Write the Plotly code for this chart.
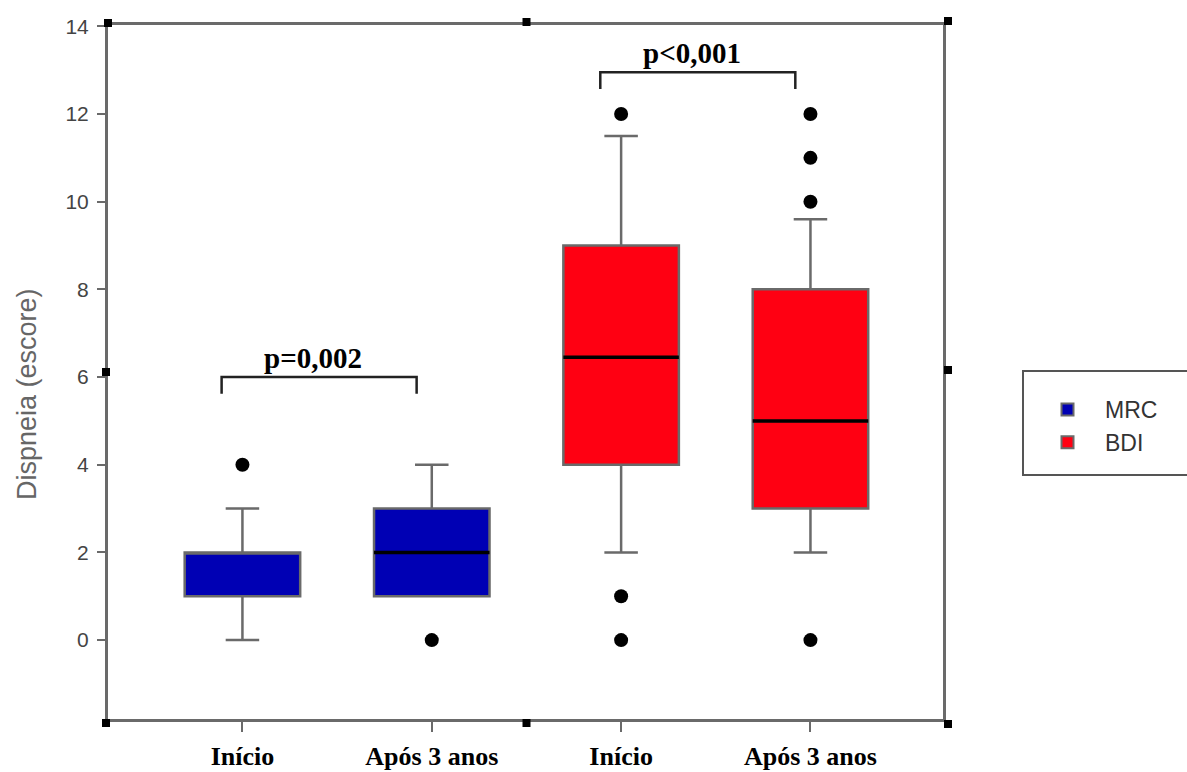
import plotly.graph_objects as go

# ---- data ----
categories = ["Início", "Após 3 anos", "Início", "Após 3 anos"]
groups = ["MRC", "MRC", "BDI", "BDI"]
q1 = [1, 1, 4, 3]
median = [2, 2, 6.45, 5]
q3 = [2, 3, 9, 8]
lowerfence = [0, 1, 2, 2]
upperfence = [3, 4, 11.5, 9.6]
outliers = [[4], [0], [12, 1, 0], [12, 11, 10, 0]]
p_labels = ["p=0,002", "p<0,001"]
p_pairs = [(0, 1), (2, 3)]
p_heights = [6.0, 12.95]
y_ticks = [0, 2, 4, 6, 8, 10, 12, 14]

colors = {"MRC": "#0000b4", "BDI": "#ff0012"}
positions = [1, 2, 3, 4]
box_w = 0.61

fig = go.Figure()
shown = set()
for i, pos in enumerate(positions):
    g = groups[i]
    fig.add_trace(go.Box(
        x=[pos], q1=[q1[i]], median=[median[i]], q3=[q3[i]],
        lowerfence=[lowerfence[i]], upperfence=[upperfence[i]],
        name=g, legendgroup=g, showlegend=g not in shown,
        fillcolor=colors[g], line=dict(color="#6a6a6a", width=2.5),
        width=box_w, whiskerwidth=0.29, boxpoints=False,
        hoverinfo="skip",
    ))
    shown.add(g)
    if q1[i] < median[i] < q3[i]:
        fig.add_trace(go.Scatter(
            x=[pos - box_w / 2, pos + box_w / 2], y=[median[i], median[i]],
            mode="lines", line=dict(color="black", width=3.5),
            showlegend=False, hoverinfo="skip",
        ))
    fig.add_trace(go.Scatter(
        x=[pos] * len(outliers[i]), y=outliers[i], mode="markers",
        marker=dict(color="black", size=14), showlegend=False, hoverinfo="skip",
    ))

# significance brackets
for (a, b), h, lab in zip(p_pairs, p_heights, p_labels):
    x0 = positions[a] - 0.11
    x1 = positions[b] - 0.08
    drop = 0.38
    fig.add_shape(type="path",
                  path=f"M {x0},{h - drop} L {x0},{h} L {x1},{h} L {x1},{h - drop}",
                  xref="x", yref="y", line=dict(color="#222", width=2.5))
    fig.add_annotation(x=(x0 + x1) / 2 - 0.03, y=h, text=lab, showarrow=False,
                       xref="x", yref="y", yanchor="bottom", yshift=1,
                       font=dict(family="Liberation Serif", size=29, color="black", weight="bold"))

# decorative black squares on frame
for px, py, dx, dy in [(0, 0, -2, -4), (0.5, 0, 1, -4), (1, 0, 5, -5), (0, 0.5, -2, 0),
                       (1, 0.5, 5, 2), (0, 1, 0, 2), (0.5, 1, 1, 3), (1, 1, 5, 4)]:
    fig.add_shape(type="rect", xref="paper", yref="paper",
                  xsizemode="pixel", ysizemode="pixel",
                  xanchor=px, yanchor=py, x0=dx - 4, x1=dx + 4, y0=dy - 4, y1=dy + 4,
                  fillcolor="black", line=dict(width=0))

# legend frame
fig.add_shape(type="rect", xref="paper", yref="paper",
              x0=(1023 - 108) / 835, x1=(1195 - 108) / 835,
              y0=(719 - 475) / 694, y1=(719 - 371) / 694,
              line=dict(color="#555", width=2), fillcolor="rgba(0,0,0,0)")

# y axis title
fig.add_annotation(text="Dispneia (escore)", xref="paper", yref="paper",
                   x=(27 - 108) / 835, y=(719 - 394) / 694, textangle=-90,
                   showarrow=False, xanchor="center", yanchor="middle",
                   font=dict(family="Liberation Sans", size=27, color="#666"))

fig.update_layout(
    width=1187, height=772,
    margin=dict(l=108, r=244, t=25, b=53, autoexpand=False),
    paper_bgcolor="white", plot_bgcolor="white",
    showlegend=True,
    legend=dict(x=(1030 - 108) / 835, y=(719 - 388) / 694, xanchor="left", yanchor="top",
                borderwidth=0, bgcolor="rgba(0,0,0,0)",
                font=dict(family="Liberation Sans", size=23, color="#333"),
                itemwidth=65, tracegroupgap=0, itemsizing="constant"),
    xaxis=dict(range=[0.29, 4.70], tickvals=positions, ticktext=categories,
               automargin=False,
               showgrid=False, zeroline=False, showline=True, mirror=True,
               linecolor="#6a6a6a", linewidth=3, ticks="outside", ticklen=10,
               tickwidth=2, tickcolor="#6a6a6a", ticklabelstandoff=2,
               tickfont=dict(family="Liberation Serif", size=26, color="black", weight="bold")),
    yaxis=dict(range=[-1.80, 14.03], tickvals=y_ticks, automargin=False,
               showgrid=False, zeroline=False, showline=True, mirror=True,
               linecolor="#6a6a6a", linewidth=3, ticks="outside", ticklen=8,
               tickwidth=2, tickcolor="#6a6a6a", ticklabelstandoff=4,
               tickfont=dict(family="Liberation Sans", size=21, color="#444")),
)

fig.write_html("out.html")
